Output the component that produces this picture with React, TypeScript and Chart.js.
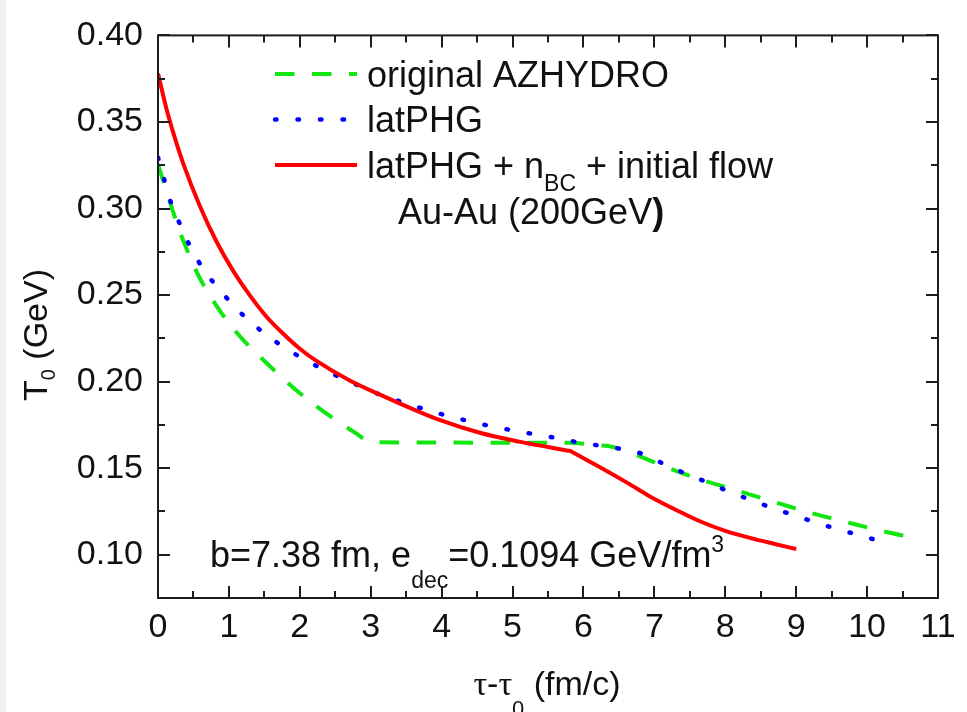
import React, { useEffect, useRef } from 'react';
import { Chart, registerables } from 'chart.js';

Chart.register(...registerables);

// ---------------- data ----------------
const TAU_AZHYDRO = [0, 0.12, 0.21, 0.31, 0.41, 0.52, 0.66, 0.83, 0.99, 1.23, 1.46, 1.75, 1.98, 2.26, 2.5, 2.78, 3.02, 5.8, 6.2, 6.35, 6.56, 7.075, 7.595, 8.115, 8.64, 9.16, 9.685, 10.21, 10.62];
const T_AZHYDRO = [0.3255, 0.31, 0.2985, 0.2865, 0.276, 0.2655, 0.2545, 0.2435, 0.2343, 0.2228, 0.2135, 0.2023, 0.194, 0.185, 0.178, 0.1705, 0.165, 0.1647, 0.1633, 0.1628, 0.1605, 0.1521, 0.1442, 0.1377, 0.1311, 0.1247, 0.1191, 0.1137, 0.11];

const TAU_LATPHG = [0, 0.1, 0.19, 0.32, 0.46, 0.64, 0.88, 1.16, 1.48, 1.79, 2.1, 2.42, 2.73, 3.04, 3.35, 3.66, 3.98, 4.29, 4.6, 4.93, 5.24, 5.55, 5.86, 6.17, 6.48, 6.79, 7.1, 7.42, 7.74, 8.04, 8.36, 8.67, 8.98, 9.3, 9.6, 9.93, 10.22];
const T_LATPHG = [0.3295, 0.315, 0.3025, 0.29, 0.2775, 0.265, 0.2525, 0.24, 0.2285, 0.2195, 0.212, 0.2053, 0.1995, 0.1939, 0.1894, 0.1853, 0.1814, 0.1781, 0.1751, 0.1724, 0.1701, 0.1679, 0.1654, 0.1634, 0.1615, 0.1588, 0.1531, 0.1472, 0.1419, 0.1367, 0.1316, 0.1269, 0.1227, 0.1183, 0.1146, 0.1108, 0.1074];

const TAU_FLOW = [0, 0.12, 0.24, 0.36, 0.59, 0.83, 1.06, 1.3, 1.53, 1.77, 2.0, 2.24, 2.71, 3.13, 3.98, 4.55, 5.11, 5.5, 5.78, 5.82, 5.86, 6.24, 6.62, 6.95, 7.3, 7.65, 8.0, 8.36, 8.7, 9.0];
const T_FLOW = [0.378, 0.3575, 0.3405, 0.3255, 0.3015, 0.2805, 0.264, 0.2495, 0.2375, 0.2275, 0.219, 0.2118, 0.2005, 0.1925, 0.1777, 0.1703, 0.1652, 0.1622, 0.1601, 0.1598, 0.1589, 0.1504, 0.1415, 0.1334, 0.126, 0.1192, 0.1138, 0.1096, 0.1062, 0.1033];

const X_TICKS = [0, 1, 2, 3, 4, 5, 6, 7, 8, 9, 10, 11];
const Y_TICKS = [0.1, 0.15, 0.2, 0.25, 0.3, 0.35, 0.4];
const X_MIN = 0;
const X_MAX = 11;
const Y_MIN = 0.075;
const Y_MAX = 0.4;
const X_MINOR_STEP = 0.5;
const Y_MINOR_STEP = 0.025;

// ---------------- styling ----------------
const W = 967;
const H = 712;
const SANS = '"Liberation Sans", Arial, Helvetica, sans-serif';
const SERIF = '"Liberation Serif", "Times New Roman", serif';
const AXIS_COLOR = '#1c1c1c';
const TEXT_COLOR = '#111111';
const GREEN = '#11e611';
const BLUE = '#0000ff';
const RED = '#ff0000';
const GREEN_DASH = [19.5, 17.5];
const BLUE_DASH = [1.5, 21];
const BIG = 36;

type Part = { t: string; size: number; dy?: number; bold?: boolean; serif?: boolean };

function partFont(p: Part) {
  return `${p.bold ? 'bold ' : ''}${p.size}px ${p.serif ? SERIF : SANS}`;
}

function drawRich(ctx: CanvasRenderingContext2D, parts: Part[], x: number, y: number, align: 'left' | 'center') {
  let total = 0;
  for (const p of parts) {
    ctx.font = partFont(p);
    total += ctx.measureText(p.t).width;
  }
  let cx = align === 'center' ? x - total / 2 : x;
  ctx.textAlign = 'left';
  ctx.textBaseline = 'alphabetic';
  ctx.fillStyle = TEXT_COLOR;
  for (const p of parts) {
    ctx.font = partFont(p);
    ctx.fillText(p.t, cx, y + (p.dy || 0));
    cx += ctx.measureText(p.t).width;
  }
}

const LEGEND = [
  { parts: [{ t: 'original AZHYDRO', size: BIG }], color: GREEN, dash: GREEN_DASH, width: 4, cap: 'butt' as CanvasLineCap },
  { parts: [{ t: 'latPHG', size: BIG }], color: BLUE, dash: BLUE_DASH, width: 4.5, cap: 'round' as CanvasLineCap },
  {
    parts: [
      { t: 'latPHG + n', size: BIG },
      { t: 'BC', size: 23, dy: 13 },
      { t: ' + initial flow', size: BIG },
    ],
    color: RED,
    dash: [] as number[],
    width: 4,
    cap: 'butt' as CanvasLineCap,
  },
];

const decorPlugin = {
  id: 'decor',
  beforeDraw(chart: any) {
    const { ctx, width, height } = chart;
    ctx.save();
    ctx.fillStyle = '#ffffff';
    ctx.fillRect(0, 0, width, height);
    ctx.fillStyle = '#f2f2f2';
    ctx.fillRect(0, 0, 6, height);
    ctx.restore();
  },
  afterDraw(chart: any) {
    const { ctx, chartArea: a, scales } = chart;
    const xs = scales.x;
    const ys = scales.y;
    ctx.save();
    ctx.strokeStyle = AXIS_COLOR;
    ctx.lineWidth = 2;
    ctx.setLineDash([]);
    ctx.lineCap = 'butt';
    ctx.strokeRect(a.left, a.top, a.right - a.left, a.bottom - a.top);
    const seg = (x1: number, y1: number, x2: number, y2: number) => {
      ctx.beginPath();
      ctx.moveTo(x1, y1);
      ctx.lineTo(x2, y2);
      ctx.stroke();
    };
    const MAJ = 12;
    const MIN = 7;
    for (const v of X_TICKS) {
      const px = Math.round(xs.getPixelForValue(v));
      seg(px, a.bottom, px, a.bottom - MAJ);
      seg(px, a.top, px, a.top + MAJ);
      const m = v + X_MINOR_STEP;
      if (m < X_MAX) {
        const pm = Math.round(xs.getPixelForValue(m));
        seg(pm, a.bottom, pm, a.bottom - MIN);
        seg(pm, a.top, pm, a.top + MIN);
      }
    }
    for (const v of Y_TICKS) {
      const py = Math.round(ys.getPixelForValue(v));
      seg(a.left, py, a.left + MAJ, py);
      seg(a.right, py, a.right - MAJ, py);
      const m = v + Y_MINOR_STEP;
      if (m < Y_MAX) {
        const pm = Math.round(ys.getPixelForValue(m));
        seg(a.left, pm, a.left + MIN, pm);
        seg(a.right, pm, a.right - MIN, pm);
      }
    }

    // legend
    const lx0 = 275;
    const lx1 = 357;
    const tx = 367;
    const rowY = [74, 119.5, 165];
    LEGEND.forEach((item, i) => {
      const y = rowY[i];
      ctx.save();
      ctx.strokeStyle = item.color;
      ctx.lineWidth = item.width;
      ctx.lineCap = item.cap;
      ctx.setLineDash(item.dash);
      seg(lx0, y, lx1, y);
      ctx.restore();
      drawRich(ctx, item.parts, tx, y + 12.5, 'left');
    });
    drawRich(ctx, [{ t: 'Au-Au (200GeV', size: BIG }, { t: ')', size: BIG, bold: true }], 398, 224, 'left');

    // annotation
    drawRich(
      ctx,
      [
        { t: 'b=7.38 fm, e', size: BIG },
        { t: 'dec', size: 23, dy: 21 },
        { t: '=0.1094 GeV/fm', size: BIG },
        { t: '3', size: 23, dy: -15 },
      ],
      210,
      567,
      'left'
    );

    // axis titles
    drawRich(
      ctx,
      [
        { t: 'τ', size: 34, serif: true },
        { t: '-', size: 34 },
        { t: 'τ', size: 34, serif: true },
        { t: '0', size: 22, dy: 21 },
        { t: ' (fm/c)', size: 34 },
      ],
      547,
      695,
      'center'
    );
    ctx.save();
    ctx.translate(47, 335);
    ctx.rotate(-Math.PI / 2);
    drawRich(
      ctx,
      [
        { t: 'T', size: 34 },
        { t: '0', size: 20, dy: 8 },
        { t: ' (GeV)', size: 34 },
      ],
      0,
      0,
      'center'
    );
    ctx.restore();
    ctx.restore();
  },
};

const toPts = (xs: number[], ys: number[]) => xs.map((x, i) => ({ x, y: ys[i] }));

export default function App() {
  const ref = useRef<HTMLCanvasElement | null>(null);

  useEffect(() => {
    if (!ref.current) return;
    const chart = new Chart(ref.current, {
      type: 'line',
      data: {
        datasets: [
          {
            label: 'latPHG + nBC + initial flow',
            data: toPts(TAU_FLOW, T_FLOW),
            borderColor: RED,
            borderWidth: 4,
            pointRadius: 0,
            fill: false,
            cubicInterpolationMode: 'monotone',
          },
          {
            label: 'latPHG',
            data: toPts(TAU_LATPHG, T_LATPHG),
            borderColor: BLUE,
            borderWidth: 4.5,
            borderDash: BLUE_DASH,
            borderCapStyle: 'round',
            pointRadius: 0,
            fill: false,
            cubicInterpolationMode: 'monotone',
          },
          {
            label: 'original AZHYDRO',
            data: toPts(TAU_AZHYDRO, T_AZHYDRO),
            borderColor: GREEN,
            borderWidth: 4,
            borderDash: GREEN_DASH,
            pointRadius: 0,
            fill: false,
            cubicInterpolationMode: 'monotone',
          },
        ],
      } as any,
      options: {
        responsive: false,
        animation: false,
        devicePixelRatio: 1,
        layout: { padding: { left: 0, top: 25, right: 29, bottom: 0 } },
        plugins: { legend: { display: false }, tooltip: { enabled: false }, title: { display: false } },
        scales: {
          x: {
            type: 'linear',
            min: X_MIN,
            max: X_MAX,
            afterBuildTicks: (s: any) => {
              s.ticks = X_TICKS.map((v) => ({ value: v }));
            },
            afterFit: (s: any) => {
              s.height = 114;
            },
            grid: { display: false, drawTicks: false },
            border: { display: false },
            ticks: {
              font: { family: SANS, size: 34 },
              color: TEXT_COLOR,
              padding: 9,
              maxRotation: 0,
              autoSkip: false,
              callback: (v: any) => String(v),
            },
          },
          y: {
            type: 'linear',
            min: Y_MIN,
            max: Y_MAX,
            afterBuildTicks: (s: any) => {
              s.ticks = Y_TICKS.map((v) => ({ value: v }));
            },
            afterFit: (s: any) => {
              s.width = 158;
            },
            grid: { display: false, drawTicks: false },
            border: { display: false },
            ticks: {
              font: { family: SANS, size: 34 },
              color: TEXT_COLOR,
              padding: 15,
              autoSkip: false,
              callback: (v: any) => Number(v).toFixed(2),
            },
          },
        },
      } as any,
      plugins: [decorPlugin],
    });
    return () => chart.destroy();
  }, []);

  return (
    <div style={{ position: 'absolute', left: 0, top: 0, width: W, height: H, background: '#fff' }}>
      <canvas ref={ref} width={W} height={H} style={{ display: 'block', width: W, height: H }} />
    </div>
  );
}
